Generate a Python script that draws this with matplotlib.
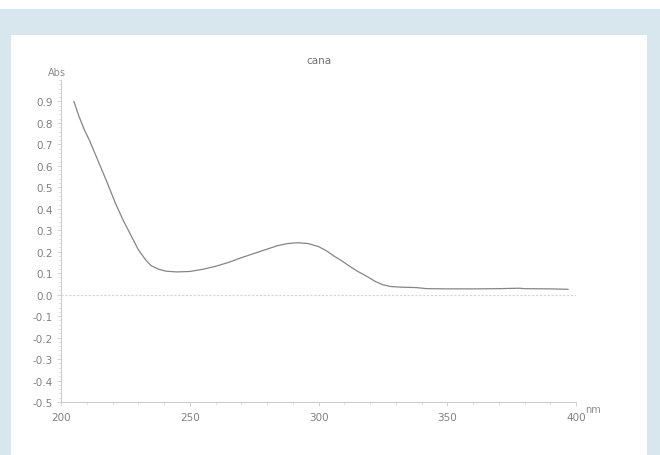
import matplotlib
matplotlib.use("Agg")
import matplotlib.pyplot as plt
from matplotlib.patches import Rectangle
from matplotlib.ticker import MultipleLocator

# Data
wavelength_nm = [205, 207, 209, 211, 214, 218, 221, 224, 227, 230, 233, 235, 238, 241,
                 245, 250, 255, 260, 265, 270, 275, 280, 284, 288, 292, 296, 300,
                 303, 306, 309, 312, 315, 319, 322, 325, 328, 332, 338, 342, 350,
                 360, 370, 378, 380, 390, 397]
absorbance = [0.90, 0.83, 0.77, 0.72, 0.635, 0.52, 0.43, 0.35, 0.28, 0.21, 0.16, 0.135,
              0.118, 0.109, 0.106, 0.108, 0.118, 0.132, 0.150, 0.172, 0.192, 0.212,
              0.228, 0.238, 0.242, 0.238, 0.224, 0.205, 0.180, 0.158, 0.133, 0.110,
              0.084, 0.062, 0.046, 0.038, 0.035, 0.033, 0.028, 0.027, 0.027, 0.028,
              0.030, 0.028, 0.027, 0.025]
x_ticks = [200, 250, 300, 350, 400]
y_ticks = [0.9, 0.8, 0.7, 0.6, 0.5, 0.4, 0.3, 0.2, 0.1, 0.0, -0.1, -0.2, -0.3, -0.4, -0.5]
y_tick_labels = ["0.9", "0.8", "0.7", "0.6", "0.5", "0.4", "0.3", "0.2", "0.1", "0.0",
                 "-0.1", "-0.2", "-0.3", "-0.4", "-0.5"]
title = "cana"

W, H = 660, 456
fig = plt.figure(figsize=(W / 100, H / 100), dpi=100)
fig.patch.set_facecolor("white")

# page background (light blue frame) and white panel
fig.add_artist(Rectangle((0, 0), 1, 1 - 10 / H, transform=fig.transFigure,
                         facecolor="#d8e6ee", edgecolor="none", zorder=0))
fig.add_artist(Rectangle((11 / W, 0), (647 - 11) / W, (H - 36) / H,
                         transform=fig.transFigure, facecolor="white",
                         edgecolor="none", zorder=0))

left, right, top, bottom = 61, 576, 81, 403
ax = fig.add_axes([left / W, (H - bottom) / H, (right - left) / W, (bottom - top) / H])
ax.set_facecolor("none")

ax.plot(wavelength_nm, absorbance, color="#858585", lw=0.9, solid_capstyle="round",
        solid_joinstyle="round")
ax.axhline(0.0, color="#d4d4d4", lw=0.8, ls=(0, (2, 1.5)))

ax.set_xlim(200, 400)
ax.set_ylim(-0.5, 1.0)

for s in ("top", "right"):
    ax.spines[s].set_visible(False)
for s in ("left", "bottom"):
    ax.spines[s].set_color("#cccccc")
    ax.spines[s].set_linewidth(0.8)

ax.set_xticks(x_ticks)
ax.set_xticklabels([str(v) for v in x_ticks])
ax.set_yticks(y_ticks)
ax.set_yticklabels(y_tick_labels)
ax.xaxis.set_minor_locator(MultipleLocator(10))
ax.yaxis.set_minor_locator(MultipleLocator(0.02))
ax.tick_params(axis="both", which="major", labelsize=7.5, labelcolor="#808080",
               color="#cccccc", length=3, width=0.6)
ax.tick_params(axis="x", which="major", pad=4)
ax.tick_params(axis="y", which="major", pad=3)
ax.tick_params(axis="both", which="minor", color="#dadada", length=2, width=0.5)

ax.set_title(title, fontsize=7.5, color="#707070", pad=12)
fig.text(57 / W, 1 - 73 / H, "Abs", fontsize=7, color="#8c8c8c",
         ha="center", va="center")
fig.text(593 / W, 1 - 410 / H, "nm", fontsize=7, color="#8c8c8c",
         ha="center", va="center")

fig.savefig("out.png", dpi=100)
